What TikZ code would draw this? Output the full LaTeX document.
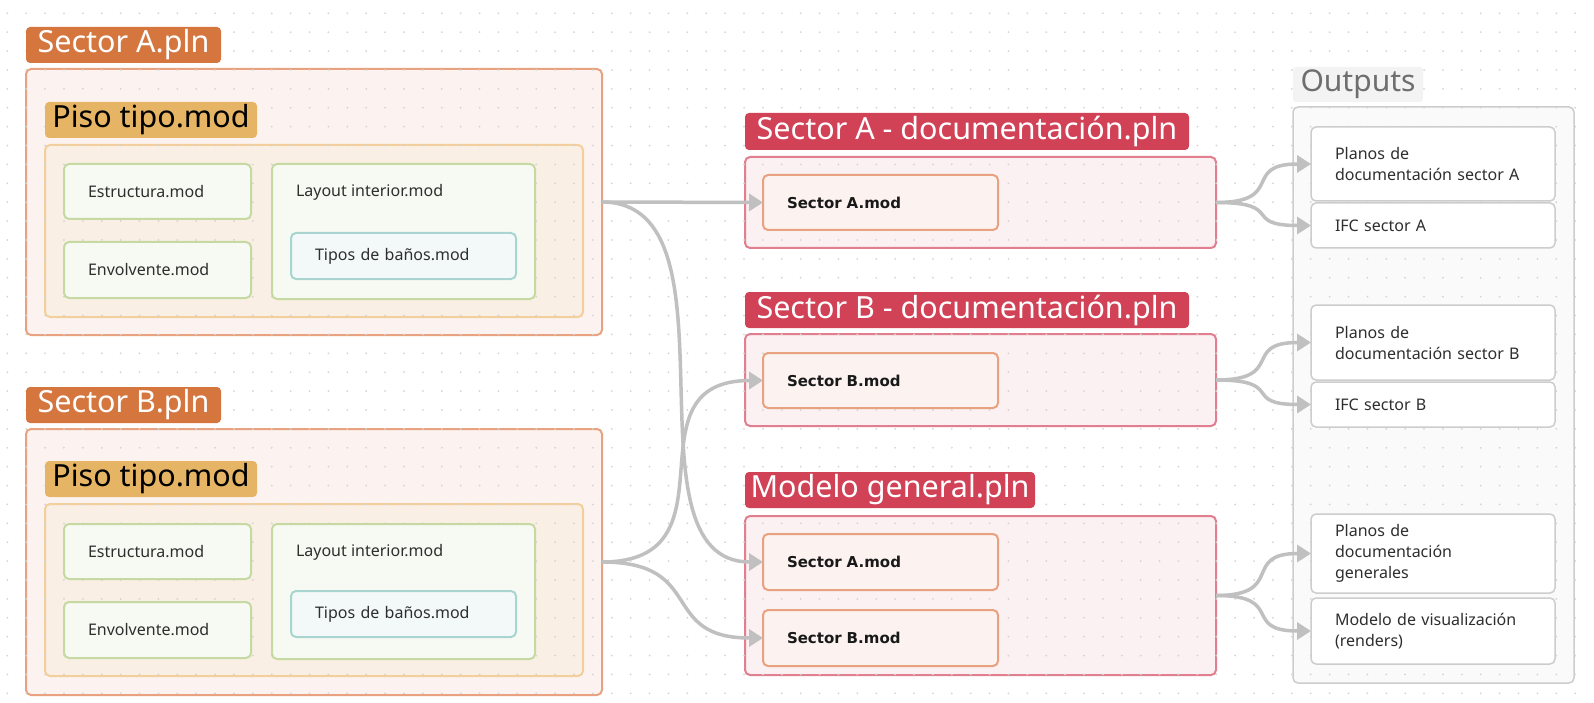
\documentclass[tikz,border=0pt]{standalone}
\usepackage{fontspec}
\setmainfont{Noto Sans}
\newfontfamily\modfont{DejaVu Sans}
\usetikzlibrary{arrows.meta,calc}

\definecolor{plnorange}{HTML}{D5763F}
\definecolor{plnline}{HTML}{E9A27F}
\definecolor{plnfill}{HTML}{FCF3F0}
\definecolor{pisoyellow}{HTML}{E5B464}
\definecolor{pisoline}{HTML}{F2CF9C}
\definecolor{pisofill}{HTML}{F9EFE4}
\definecolor{greenline}{HTML}{C6D9A3}
\definecolor{greenfill}{HTML}{F7FAF3}
\definecolor{tealline}{HTML}{A9D5D0}
\definecolor{tealfill}{HTML}{F3F9F9}
\definecolor{docred}{HTML}{D14257}
\definecolor{docline}{HTML}{E17F8F}
\definecolor{docfill}{HTML}{FBF0F2}
\definecolor{outline}{HTML}{CDCDCD}
\definecolor{outfill}{HTML}{FAFAFA}
\definecolor{lblfill}{HTML}{F3F3F3}
\definecolor{lblgray}{HTML}{6E6E6E}
\definecolor{txtgray}{HTML}{2E2E2E}
\definecolor{conngray}{HTML}{C0C0C0}
\definecolor{dotgray}{HTML}{D4D4D4}

\tikzset{
  tag/.style={anchor=north west, rounded corners=4pt, font=\fontsize{30.5}{36}\selectfont},
  plntag/.style={tag, fill=plnorange, text=white},
  pisotag/.style={tag, fill=pisoyellow, text=black},
  doctag/.style={tag, fill=docred, text=white},
  group/.style={anchor=north west, line width=2pt, rounded corners=5pt},
  plnbox/.style={group, draw=plnline, fill=plnfill},
  pisobox/.style={group, draw=pisoline, fill=pisofill},
  docbox/.style={group, draw=docline, fill=docfill},
  outbox/.style={group, draw=outline, fill=outfill, line width=1.5pt},
  leaf/.style={anchor=north west, line width=2pt, rounded corners=5pt, inner xsep=24pt,
    align=left, font=\fontsize{16}{21}\selectfont, text=txtgray},
  greenleaf/.style={leaf, draw=greenline, fill=greenfill},
  tealleaf/.style={leaf, draw=tealline, fill=tealfill},
  modleaf/.style={leaf, draw=plnline, fill=plnfill, font=\modfont\bfseries\fontsize{15}{21}\selectfont, text=black!90},
  outleaf/.style={leaf, draw=outline, fill=white, line width=1.5pt},
  conn/.style={draw=conngray, line width=3.5pt, -{Triangle[length=14pt,width=17pt]}}
}

\begin{document}
\begin{tikzpicture}[x=1pt,y=-1pt,every node/.style={inner sep=0pt,outer sep=0pt}]
\fill[white] (0,0) rectangle (1594,703);
\useasboundingbox (0,0) rectangle (1594,703);

% containers
\node[plnbox, minimum width=576pt, minimum height=266pt] (plnA) at (26,69) {};
\node[pisobox, minimum width=538pt, minimum height=172pt] (pisoA) at (45,145) {};
\node[plnbox, minimum width=576pt, minimum height=266pt] (plnB) at (26,429) {};
\node[pisobox, minimum width=538pt, minimum height=172pt] (pisoB) at (45,504) {};
\node[docbox, minimum width=471pt, minimum height=91pt] (docA) at (745,157) {};
\node[docbox, minimum width=471pt, minimum height=92pt] (docB) at (745,334) {};
\node[docbox, minimum width=471pt, minimum height=159pt] (gen) at (745,516) {};
\node[outbox, minimum width=281pt, minimum height=576pt] (outs) at (1293,107) {};

% dot grid
\foreach \i in {0,...,83}
  \foreach \j in {0,...,36}
    \fill[dotgray] (7.3+18.89*\i,13.3+18.89*\j) circle (1pt);

% Sector A.pln
\node[plntag, minimum width=195pt, minimum height=36pt] (tagA) at (26,27) {Sector A.pln};
\node[pisotag, minimum width=212pt, minimum height=36pt] (pisotagA) at (45,102) {Piso tipo.mod};
\node[greenleaf, text width=139pt, minimum height=55pt] (estA) at (64,164) {Estructura.mod};
\node[greenleaf, text width=139pt, minimum height=56pt] (envA) at (64,242) {Envolvente.mod};
\node[greenleaf, minimum width=263pt, minimum height=135pt] (layA) at (272,164) {};
\node[anchor=west, font=\fontsize{16}{21}\selectfont, text=txtgray] (layAtxt) at ($(layA.north west)+(24,28)$) {Layout interior.mod};
\node[tealleaf, text width=177pt, minimum height=46pt] (banA) at (291,233) {Tipos de baños.mod};

% Sector B.pln
\node[plntag, minimum width=195pt, minimum height=36pt] (tagB) at (26,387) {Sector B.pln};
\node[pisotag, minimum width=212pt, minimum height=36pt] (pisotagB) at (45,461) {Piso tipo.mod};
\node[greenleaf, text width=139pt, minimum height=55pt] (estB) at (64,524) {Estructura.mod};
\node[greenleaf, text width=139pt, minimum height=56pt] (envB) at (64,602) {Envolvente.mod};
\node[greenleaf, minimum width=263pt, minimum height=135pt] (layB) at (272,524) {};
\node[anchor=west, font=\fontsize{16}{21}\selectfont, text=txtgray] (layBtxt) at ($(layB.north west)+(24,28)$) {Layout interior.mod};
\node[tealleaf, text width=177pt, minimum height=46pt] (banB) at (291,591) {Tipos de baños.mod};

% documentation files
\node[doctag, minimum width=444pt, minimum height=37pt] (tagDA) at (745,113) {Sector A - documentación.pln};
\node[modleaf, text width=187pt, minimum height=55pt] (modDA) at (763,175) {Sector A.mod};
\node[doctag, minimum width=444pt, minimum height=36pt] (tagDB) at (745,292) {Sector B - documentación.pln};
\node[modleaf, text width=187pt, minimum height=55pt] (modDB) at (763,353) {Sector B.mod};
\node[doctag, minimum width=290pt, minimum height=36pt] (tagG) at (745,472) {Modelo general.pln};
\node[modleaf, text width=187pt, minimum height=56pt] (modGA) at (763,534) {Sector A.mod};
\node[modleaf, text width=187pt, minimum height=56pt] (modGB) at (763,610) {Sector B.mod};

% outputs
\node[anchor=north west, fill=lblfill, rounded corners=3pt, minimum width=130pt, minimum height=35pt,
  font=\fontsize{30}{36}\selectfont, text=lblgray] (outlbl) at (1293,67) {Outputs};
\node[outleaf, text width=196pt, minimum height=74pt] (outPA) at (1311,127) {Planos de\\documentación sector A};
\node[outleaf, text width=196pt, minimum height=45pt] (outIA) at (1311,203) {IFC sector A};
\node[outleaf, text width=196pt, minimum height=75pt] (outPB) at (1311,305) {Planos de\\documentación sector B};
\node[outleaf, text width=196pt, minimum height=45pt] (outIB) at (1311,382) {IFC sector B};
\node[outleaf, text width=196pt, minimum height=79pt] (outPG) at (1311,514) {Planos de\\documentación\\generales};
\node[outleaf, text width=196pt, minimum height=66pt] (outMV) at (1311,598) {Modelo de visualización\\(renders)};

% connectors
\draw[conn] (plnA.east) -- (modDA.west);
\draw[conn] (plnA.east) .. controls +(145,0) and +(-145,0) .. (modGA.west);
\draw[conn] (plnB.east) .. controls +(140,0) and +(-140,0) .. (modDB.west);
\draw[conn] (plnB.east) .. controls +(105,0) and +(-105,0) .. (modGB.west);
\draw[conn] (docA.east) .. controls +(70,0) and +(-70,0) .. (outPA.west);
\draw[conn] (docA.east) .. controls +(70,0) and +(-70,0) .. (outIA.west);
\draw[conn] (docB.east) .. controls +(70,0) and +(-70,0) .. (outPB.west);
\draw[conn] (docB.east) .. controls +(70,0) and +(-70,0) .. (outIB.west);
\draw[conn] (gen.east) .. controls +(70,0) and +(-70,0) .. (outPG.west);
\draw[conn] (gen.east) .. controls +(70,0) and +(-70,0) .. (outMV.west);
\end{tikzpicture}
\end{document}
